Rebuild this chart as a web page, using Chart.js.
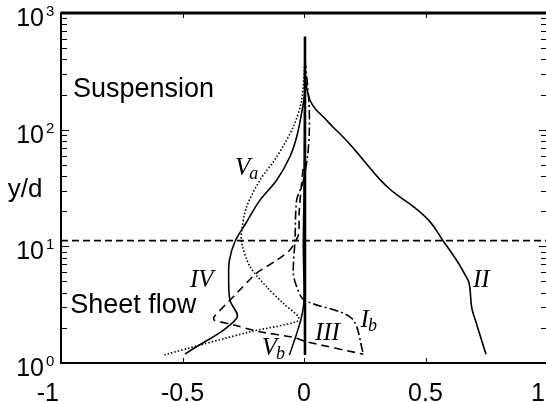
<!DOCTYPE html>
<html>
<head>
<meta charset="utf-8">
<script src="https://cdn.jsdelivr.net/npm/chart.js@4.4.0/dist/chart.umd.min.js"></script>
<style>
html, body { margin:0; padding:0; overflow:hidden; background:#fff; }
</style>
</head>
<body>
<canvas id="profileChart" width="550" height="402"></canvas>
<script>
// tick labels
var xTickValues = [-1, -0.5, 0, 0.5, 1];
var xTickLabels = ['-1', '-0.5', '0', '0.5', '1'];
var yTickValues = [1, 10, 100, 1000];
var yTickExp = ['0', '1', '2', '3'];

// boundary between sheet flow and suspension (y/d)
var sheetTopX = [-1, 1];
var sheetTopY = [11.2, 11.2];

// curve I_a (vertical at zero)
var curveIaX = [0.004, 0.004];
var curveIaY = [1.17, 630];

// curve I_b (dash-dot)
var curveIbX = [0.004, 0.02, 0.022, 0.015, -0.005, -0.03, -0.037, -0.044, -0.03, 0.0, 0.196, 0.244];
var curveIbY = [400, 178, 100, 60, 35, 25, 11.3, 5.9, 4.5, 3.47, 2.42, 1.21];

// curve II
var curveIIX = [0.004, 0.006, 0.012, 0.025, 0.05, 0.079, 0.12, 0.162, 0.21, 0.26, 0.313, 0.35, 0.39, 0.45, 0.519, 0.573, 0.628, 0.665, 0.68, 0.69, 0.706, 0.749];
var curveIIY = [600, 282, 224, 178, 148, 129, 105, 86, 66.8, 50.1, 37.3, 31.3, 26.9, 21.9, 16.2, 11.1, 7.6, 5.6, 4.8, 3.0, 2.3, 1.19];

// curve III (dashed)
var curveIIIX = [-0.004, -0.011, -0.02, -0.023, -0.058, -0.112, -0.195, -0.291, -0.37, -0.37, -0.305, -0.181, -0.044, 0.011, 0.244];
var curveIIIY = [46, 33, 19.5, 12.5, 9.3, 7.6, 5.9, 3.7, 2.49, 2.33, 2.16, 1.85, 1.66, 1.52, 1.19];

// curve IV
var curveIVX = [0.004, 0.004, -0.01, -0.03, -0.058, -0.112, -0.181, -0.24, -0.284, -0.307, -0.31, -0.305, -0.277, -0.49];
var curveIVY = [400, 219, 138, 87, 58.6, 37, 24.9, 15.7, 11, 7.6, 5.5, 3.47, 2.42, 1.19];

// curve V_a (dotted)
var curveVaX = [0.004, -0.01, -0.044, -0.112, -0.181, -0.236, -0.256, -0.256, -0.222, -0.154, -0.085, -0.023, -0.03, -0.222, -0.579];
var curveVaY = [400, 178, 106, 58.6, 37, 21.9, 13.8, 10.6, 6.7, 4.5, 3.24, 2.49, 2.26, 1.85, 1.17];

// curve V_b
var curveVbX = [0.003, 0.002, 0.0, -0.003, 0.0, -0.01, -0.03, -0.06];
var curveVbY = [300, 100, 30, 10, 3.47, 2.49, 1.79, 1.17];

function pts(xs, ys) {
	return xs.map(function(x, i) { return { x: x, y: ys[i] }; });
}

function line(xs, ys, width, dash, tension) {
	return {
		data: pts(xs, ys),
		borderColor: '#000',
		borderWidth: width,
		borderDash: dash,
		pointRadius: 0,
		fill: false,
		tension: tension
	};
}

var SANS = '"Liberation Sans", Arial, sans-serif';
var SERIF = '"Liberation Serif", "Times New Roman", serif';

// axes box, inward ticks and all texts
var decorations = {
	id: 'decorations',
	afterDatasetsDraw: function(chart) {
		var ctx = chart.ctx;
		var a = chart.chartArea;
		var xs = chart.scales.x, ys = chart.scales.y;
		ctx.save();
		ctx.strokeStyle = '#000';
		ctx.fillStyle = '#000';

		// box
		ctx.lineWidth = 2;
		ctx.strokeRect(a.left, a.top, a.right - a.left, a.bottom - a.top);
		ctx.lineWidth = 3;
		ctx.beginPath();
		ctx.moveTo(a.left, a.top);
		ctx.lineTo(a.right, a.top);
		ctx.stroke();

		// ticks
		ctx.lineWidth = 1;
		xTickValues.forEach(function(v) {
			var px = Math.round(xs.getPixelForValue(v)) + 0.5;
			ctx.beginPath();
			ctx.moveTo(px, a.bottom); ctx.lineTo(px, a.bottom - 5);
			ctx.moveTo(px, a.top); ctx.lineTo(px, a.top + 5);
			ctx.stroke();
		});
		[1, 10, 100].forEach(function(d) {
			for (var m = 1; m <= 9; m++) {
				var py = Math.round(ys.getPixelForValue(d * m)) + 0.5;
				var len = m === 1 ? 8 : 6;
				ctx.beginPath();
				ctx.moveTo(a.left, py); ctx.lineTo(a.left + len, py);
				ctx.moveTo(a.right, py); ctx.lineTo(a.right - len, py);
				ctx.stroke();
			}
		});

		// x tick labels
		ctx.font = '25px ' + SANS;
		ctx.textBaseline = 'alphabetic';
		xTickValues.forEach(function(v, i) {
			var px = xs.getPixelForValue(v);
			if (i === 0 || i === xTickValues.length - 1) {
				ctx.textAlign = 'right';
				ctx.fillText(xTickLabels[i], px - 2, 401);
			} else {
				ctx.textAlign = 'center';
				ctx.fillText(xTickLabels[i], px, 401);
			}
		});

		// y tick labels 10^n
		yTickValues.forEach(function(v, i) {
			var py = ys.getPixelForValue(v);
			ctx.font = '25px ' + SANS;
			ctx.textAlign = 'right';
			ctx.fillText('10', a.left - 17, py + 13);
			ctx.font = '15px ' + SANS;
			ctx.textAlign = 'left';
			ctx.fillText(yTickExp[i], a.left - 15, py + 3);
		});

		// axis title
		ctx.font = '26px ' + SANS;
		ctx.textAlign = 'center';
		ctx.fillText('y/d', a.left - 36, 197);

		// region names
		ctx.font = '27px ' + SANS;
		ctx.textAlign = 'left';
		ctx.fillText('Suspension', xs.getPixelForValue(-0.951), ys.getPixelForValue(190));
		ctx.fillText('Sheet flow', xs.getPixelForValue(-0.962), ys.getPixelForValue(2.68));

		// curve names
		function tag(main, sub, x, y) {
			var px = xs.getPixelForValue(x), py = ys.getPixelForValue(y);
			ctx.font = 'italic 25px ' + SERIF;
			ctx.textAlign = 'left';
			ctx.fillText(main, px, py);
			if (sub) {
				var w = ctx.measureText(main).width;
				ctx.font = 'italic 18px ' + SERIF;
				ctx.fillText(sub, px + w - 1, py + 4);
			}
		}
		tag('V', 'a', -0.284, 40.8);
		tag('IV', '', -0.469, 4.48);
		tag('II', '', 0.695, 4.48);
		tag('I', 'b', 0.233, 2.03);
		tag('III', '', 0.045, 1.57);
		tag('V', 'b', -0.174, 1.17);

		ctx.restore();
	}
};

var ctx = document.getElementById('profileChart').getContext('2d');
var profileChart = new Chart(ctx, {
	type: 'line',
	data: {
		datasets: [
			line(sheetTopX, sheetTopY, 1.8, [7, 4], 0),
			line(curveIaX, curveIaY, 2.6, [], 0),
			line(curveIbX, curveIbY, 1.6, [9, 3, 2, 3], 0.3),
			line(curveIIX, curveIIY, 1.6, [], 0.4),
			line(curveIIIX, curveIIIY, 1.6, [8, 5], 0.2),
			line(curveIVX, curveIVY, 1.6, [], 0.35),
			line(curveVaX, curveVaY, 1.6, [1.5, 2], 0.3),
			line(curveVbX, curveVbY, 1.5, [], 0.3)
		]
	},
	options: {
		responsive: false,
		animation: false,
		layout: { padding: { left: 61, right: 3, top: 13, bottom: 39 } },
		plugins: { legend: { display: false }, tooltip: { enabled: false } },
		scales: {
			x: { type: 'linear', min: -1, max: 1, display: false },
			y: { type: 'logarithmic', min: 1, max: 1000, display: false }
		}
	},
	plugins: [decorations]
});
</script>
</body>
</html>
